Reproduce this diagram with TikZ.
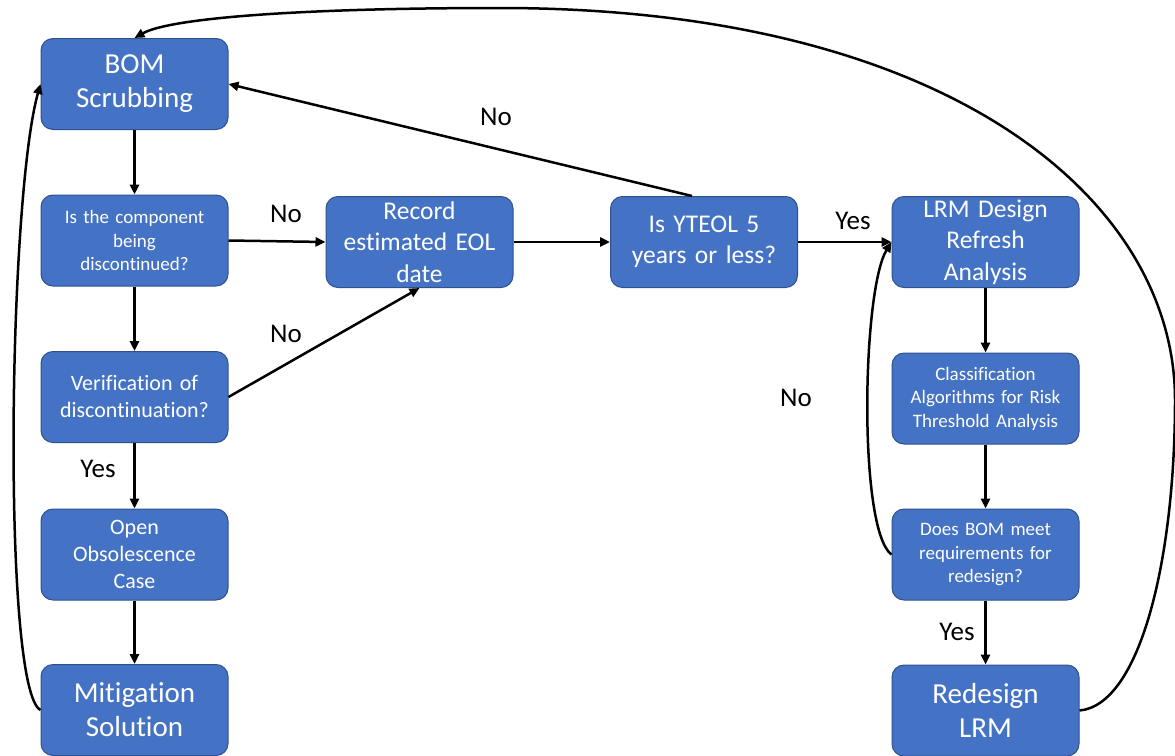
\documentclass[tikz,border=0pt]{standalone}
\usepackage{fontspec}
\setmainfont{Carlito}[Ligatures=NoCommon]
\usetikzlibrary{arrows.meta}
\definecolor{boxfill}{HTML}{4472C4}
\definecolor{boxline}{HTML}{2F528F}
\begin{document}
\begin{tikzpicture}[x=1pt,y=-1pt,
  procbox/.style={draw=boxline, line width=1pt, fill=boxfill, rounded corners=12pt,
    minimum width=187pt, minimum height=91pt, inner sep=0pt, text=white,
    align=center, text width=183pt},
  bigtxt/.style={font=\fontsize{29}{34}\selectfont},
  midtxt/.style={font=\fontsize{25.5}{31.5}\selectfont},
  smalltxt/.style={font=\fontsize{22}{27}\selectfont},
  tinytxt/.style={font=\fontsize{19}{23.5}\selectfont},
  lbl/.style={font=\fontsize{27}{32}\selectfont, inner sep=0pt},
  flow/.style={line width=2.5pt, -{Triangle[length=10pt,width=9pt]}},
]
% page frame
\fill[white] (0,0) rectangle (1175,755);
\useasboundingbox (0,0) rectangle (1175,755);

% left column
\node[procbox, bigtxt]   (bom)  at (134.5,84)  {BOM\\Scrubbing};
\node[procbox, tinytxt]  (q1)   at (134.5,240.5) {Is the component\\being\\discontinued?};
\node[procbox, smalltxt] (ver)  at (134.5,397)  {Verification of\\discontinuation?};
\node[procbox, smalltxt] (open) at (134.5,554.5) {Open\\Obsolescence\\Case};
\node[procbox, bigtxt]   (mit)  at (134.5,710) {Mitigation\\Solution};

% middle row
\node[procbox, midtxt] (rec) at (419.5,242) {Record\\estimated EOL\\date};
\node[procbox, midtxt] (yte) at (704,242)   {Is YTEOL 5\\years or less?};

% right column
\node[procbox, midtxt]  (lrm)  at (985.5,242)   {LRM Design\\Refresh\\Analysis};
\node[procbox, tinytxt] (cls)  at (985.5,398.5) {Classification\\Algorithms for Risk\\Threshold Analysis};
\node[procbox, tinytxt] (does) at (985.5,554.5) {Does BOM meet\\requirements for\\redesign?};
\node[procbox, bigtxt]  (red)  at (985.5,710.5) {Redesign\\LRM};

% straight connectors
\draw[flow] (bom.south) -- (q1.north);
\draw[flow] (q1.south) -- (ver.north);
\draw[flow] (ver.south) -- (open.north);
\draw[flow] (open.south) -- (mit.north);
\draw[flow] (q1.east) -- (rec.west);
\draw[flow] (ver.east) -- (rec.south);
\draw[flow] (rec.east) -- (yte.west);
\draw[flow] ([xshift=-12pt]yte.north) -- (bom.east);
\draw[flow] (yte.east) -- (lrm.west);
\draw[flow] (lrm.south) -- (cls.north);
\draw[flow] (cls.south) -- (does.north);
\draw[flow] (does.south) -- (red.north);

% loops
\draw[flow] (mit.west) .. controls (2,690) and (8,200) .. (bom.west);
\draw[flow] (does.west) .. controls (858,530) and (862,290) .. (lrm.west);
\draw[flow] (red.east) .. controls (1140,705) and (1175,560) .. (1175,400)
  .. controls (1175,200) and (950,8) .. (500,8)
  .. controls (300,8) and (170,18) .. (bom.north);

% branch labels
\node[lbl] (n1) at (286,214) {No};
\node[lbl] (n2) at (286,334) {No};
\node[lbl] (n3) at (496,117) {No};
\node[lbl] (n4) at (796,398) {No};
\node[lbl] (y1) at (853,221) {Yes};
\node[lbl] (y2) at (98,469)  {Yes};
\node[lbl] (y3) at (957,632) {Yes};
\end{tikzpicture}
\end{document}
